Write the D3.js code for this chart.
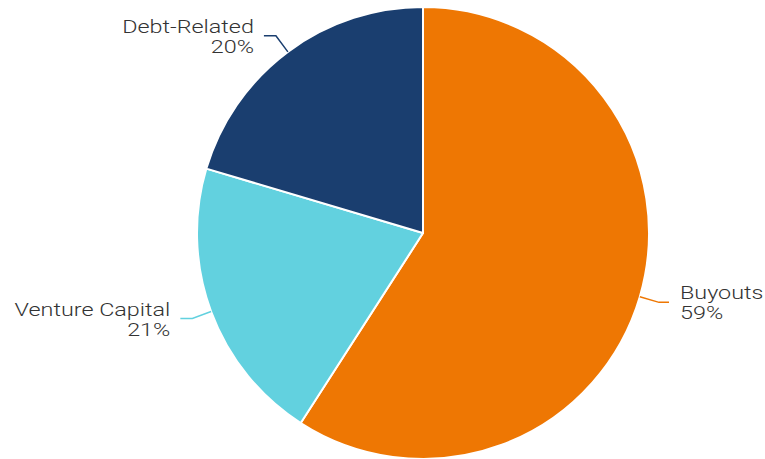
<!DOCTYPE html>
<html>
<head>
<meta charset="utf-8">
<script src="https://cdn.jsdelivr.net/npm/d3@7"></script>
<style>
  html, body { margin: 0; padding: 0; background: #fff; }
  svg { display: block; }
</style>
</head>
<body>
<div id="chart"></div>
<script>
/* Pie chart — private capital allocation by strategy */

const categories = ["Buyouts", "Venture Capital", "Debt-Related"];
const shares = [59.1, 20.5, 20.4];
const colors = ["#ee7703", "#62d1df", "#1a3e6f"];

const width = 765;
const height = 459;
const cx = 423, cy = 233, radius = 226;

const svg = d3.select("#chart")
  .append("svg")
  .attr("width", width)
  .attr("height", height);

const data = categories.map((c, i) => ({ name: c, value: shares[i], color: colors[i] }));

const pie = d3.pie()
  .value(d => d.value)
  .sort(null);

const arcs = pie(data);

const arc = d3.arc()
  .innerRadius(0)
  .outerRadius(radius);

const g = svg.append("g")
  .attr("transform", `translate(${cx},${cy})`);

// Slices
g.selectAll("path.slice")
  .data(arcs)
  .join("path")
  .attr("class", "slice")
  .attr("d", arc)
  .attr("fill", d => d.data.color)
  .attr("stroke", "#fff")
  .attr("stroke-width", 2)
  .attr("stroke-linejoin", "round");

// Leader lines + labels (text is drawn a bit wider than Roboto's normal width)
const bend = radius + 20;
const stretch = 1.23;
arcs.forEach(d => {
  const a = (d.startAngle + d.endAngle) / 2;
  const right = Math.sin(a) > 0;
  const p0 = [radius * Math.sin(a), -radius * Math.cos(a)];
  const p1 = [bend * Math.sin(a), -bend * Math.cos(a)];
  const p2 = [p1[0] + (right ? 10 : -12), p1[1]];

  g.append("polyline")
    .attr("points", [p0, p1, p2].map(p => p.join(",")).join(" "))
    .attr("fill", "none")
    .attr("stroke", d.data.color)
    .attr("stroke-width", 1.5);

  const tx = p2[0] + (right ? 11 : -10);
  const label = g.append("text")
    .attr("transform", `translate(${tx},${p2[1]}) scale(${stretch},1)`)
    .attr("text-anchor", right ? "start" : "end")
    .attr("font-family", "Roboto, 'Liberation Sans', sans-serif")
    .attr("font-weight", 300)
    .attr("font-size", 19)
    .attr("fill", "#333333");

  label.append("tspan")
    .attr("x", 0)
    .attr("y", -3)
    .text(d.data.name);

  label.append("tspan")
    .attr("x", 0)
    .attr("y", 17)
    .text(`${Math.round(d.data.value)}%`);
});
</script>
</body>
</html>
